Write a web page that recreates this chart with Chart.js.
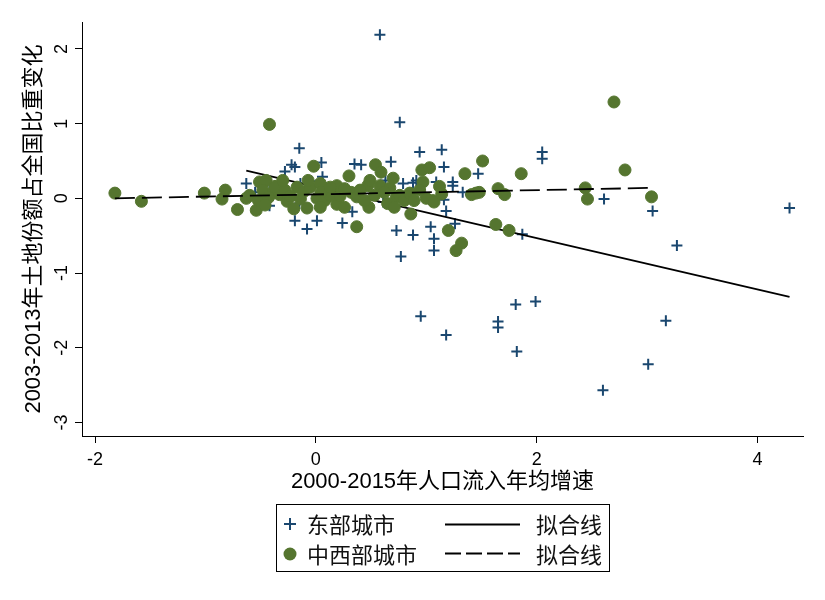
<!DOCTYPE html>
<html>
<head>
<meta charset="utf-8">
<script src="https://cdn.jsdelivr.net/npm/chart.js@4.4.1/dist/chart.umd.min.js"></script>
<style>
  body { margin: 0; background: #fff; }
  #wrap { position: relative; width: 825px; height: 600px; }
  #legend {
    position: absolute; left: 276px; top: 504px; width: 332px; height: 66px;
    border: 1px solid #000; font-family: 'Noto Sans CJK SC', sans-serif; font-size: 22px; color: #111;
  }
  #legend span, #legend svg { position: absolute; }
  #legend .lab { line-height: 30px; }
</style>
</head>
<body>
<div id="wrap">
  <canvas id="grafico" width="825" height="600"></canvas>
  <div id="legend">
    <svg style="left:7px;top:13px" width="12" height="12"><path d="M6 0V12M0 6H12" stroke="#1a476f" stroke-width="2"/></svg>
    <span class="lab" style="left:30px;top:3px">东部城市</span>
    <svg style="left:168px;top:18px" width="75" height="3"><line x1="0" y1="1.5" x2="75" y2="1.5" stroke="#000" stroke-width="2"/></svg>
    <span class="lab" style="left:259px;top:3px">拟合线</span>

    <svg style="left:6px;top:42px" width="14" height="14"><circle cx="7" cy="7" r="6.5" fill="#55752f"/></svg>
    <span class="lab" style="left:30px;top:33px">中西部城市</span>
    <svg style="left:168px;top:47px" width="75" height="3"><line x1="0" y1="1.5" x2="75" y2="1.5" stroke="#000" stroke-width="2" stroke-dasharray="16 5"/></svg>
    <span class="lab" style="left:259px;top:33px">拟合线</span>
  </div>
</div>
<script>

// 东部城市
var eastX = [0.58, 0.76, -0.15, -0.22, -0.19, 0.05, -0.28, 0.35, 0.41, 0.68, 0.94, 1.14, 1.16, 0.06, -0.63,
             -0.04, -0.42, 0.79, 0.88, 1.09, -0.42, -0.15, 0.33, -0.19, -0.08, 0.01, 0.24, 0.73, 0.88, 1.04,
             1.07, 1.07, 2.05, 2.05, 1.47, 1.24, 1.24, 1.33, 1.16, 1.18, 1.26, 0.77, 1.87, 2.61, 0.61,
             0.63, 4.29, 3.05, 3.27, 0.95, 1.18, 1.65, 1.65, 1.81, 1.99, 1.82, 2.60, 3.01, 3.17, -0.55,
             -0.14, 0.91, 1.40];
var eastY = [2.19, 1.02, 0.67, 0.45, 0.42, 0.48, 0.36, 0.46, 0.45, 0.49, 0.62, 0.65, 0.42, 0.29, 0.20,
             0.23, 0.20, 0.20, 0.21, 0.22, -0.10, -0.07, -0.18, -0.30, -0.41, -0.30, -0.33, -0.43, -0.49, -0.38,
             -0.54, -0.70, 0.62, 0.53, 0.33, 0.22, 0.17, 0.08, -0.02, -0.17, -0.34, -0.78, -0.48, -0.01, -0.05,
             0.24, -0.13, -0.17, -0.63, -1.58, -1.83, -1.65, -1.73, -1.42, -1.38, -2.05, -2.57, -2.22, -1.64, 0.08,
             0.20, 0.24, 0.05];

// 中西部城市
var westX = [-1.82, -1.58, -0.42, -1.01, -0.85, -0.82, -0.71, -0.63, -0.54, -0.51, -0.45, -0.48, -0.39, -0.33, -0.26,
             -0.20, -0.17, -0.11, -0.05, -0.08, -0.02, 0.04, 0.01, 0.08, 0.19, 0.19, 0.13, 0.30, 0.37, 0.32,
             0.37, 0.48, 0.47, 0.54, 0.59, 0.49, 0.58, 0.67, 0.73, 0.76, 0.80, 0.86, 0.96, 1.03, 0.97,
             1.06, 1.00, 1.07, 1.14, 1.35, 1.51, 1.45, 1.41, 1.48, 1.20, 1.86, 2.70, 2.80, 2.44, 2.46,
             3.04, 1.65, 1.71, 1.63, 1.75, 1.32, 1.27, -0.60, -0.52, -0.43, -0.37, -0.28, -0.23, -0.14, -0.07,
             0.05, 0.13, 0.22, 0.26, 0.40, 0.44, 0.53, 0.62, 0.65, 0.70, 0.85, 0.89, 0.94, 1.12, 0.71,
             0.26, 0.04, -0.46, -0.30];
var westY = [0.07, -0.04, 0.99, 0.07, -0.01, 0.11, -0.15, 0.00, -0.16, 0.22, 0.24, 0.11, 0.07, 0.05, -0.04,
             -0.14, 0.15, 0.09, 0.15, -0.13, 0.43, 0.20, 0.00, -0.03, -0.08, 0.17, 0.04, 0.30, -0.38, 0.08,
             0.02, -0.12, 0.17, 0.45, 0.35, 0.24, 0.17, 0.14, 0.02, 0.04, -0.03, -0.21, 0.38, 0.41, 0.22,
             -0.03, 0.00, -0.05, 0.06, 0.33, 0.50, 0.07, 0.05, 0.08, -0.43, 0.33, 1.29, 0.38, 0.14, -0.01,
             0.02, 0.13, 0.05, -0.35, -0.43, -0.60, -0.70, 0.04, -0.03, 0.01, 0.16, 0.11, 0.03, -0.01, 0.24,
             0.08, 0.15, 0.03, 0.13, 0.11, -0.03, 0.04, 0.08, -0.07, 0.27, 0.07, -0.03, 0.11, 0.16, -0.12,
             -0.12, -0.12, -0.09, 0.24];

// 拟合线 (两端点)
var eastFitX = [-0.63, 4.29];
var eastFitY = [0.37, -1.32];
var westFitX = [-1.82, 3.04];
var westFitY = [0.00, 0.14];

var xTicks = [-2, 0, 2, 4];
var yTicks = [-3, -2, -1, 0, 1, 2];

var xTitle = '2000-2015年人口流入年均增速';
var yTitle = '2003-2013年土地份额占全国比重变化';

function pares(xs, ys){
	return xs.map(function(x, i){ return {x: x, y: ys[i]}; });
}

var fonte = "'Liberation Sans', 'Noto Sans CJK SC', sans-serif";
Chart.defaults.font.family = fonte;
Chart.defaults.color = '#000';

// rótulos do eixo y girados (estilo Stata)
var rotulosY = {
	id: 'rotulosY',
	afterDraw: function(chart){
		var s = chart.scales.y, ctx = chart.ctx;
		ctx.save();
		ctx.font = '18px ' + fonte;
		ctx.fillStyle = '#000';
		ctx.textAlign = 'center';
		ctx.textBaseline = 'middle';
		s.ticks.forEach(function(t){
			ctx.save();
			ctx.translate(s.right - 20, s.getPixelForValue(t.value));
			ctx.rotate(-Math.PI / 2);
			ctx.fillText(String(t.value), 0, 0);
			ctx.restore();
		});
		ctx.restore();
	}
};

var data = {
	datasets: [
		{
			label: '拟合线 东部',
			data: pares(eastFitX, eastFitY),
			showLine: true, pointRadius: 0,
			borderColor: '#000', borderWidth: 1.8,
			order: 2
		},
		{
			label: '东部城市',
			data: pares(eastX, eastY),
			pointStyle: 'cross', pointRadius: 5.5,
			borderColor: '#1a476f', borderWidth: 2,
			order: 3
		},
		{
			label: '中西部城市',
			data: pares(westX, westY),
			pointStyle: 'circle', pointRadius: 6,
			backgroundColor: '#55752f', borderColor: '#55752f', borderWidth: 1,
			order: 1
		},
		{
			label: '拟合线 中西部',
			data: pares(westFitX, westFitY),
			showLine: true, pointRadius: 0,
			borderColor: '#000', borderWidth: 1.8, borderDash: [20, 7],
			order: 0
		}
	]
};

var options = {
	responsive: false,
	animation: false,
	events: [],
	layout: { padding: { top: 22, right: 22, left: 0, bottom: 100 } },
	plugins: { legend: { display: false }, tooltip: { enabled: false } },
	scales: {
		x: {
			type: 'linear', min: -2.118, max: 4.412,
			afterBuildTicks: function(s){ s.ticks = xTicks.map(function(v){ return {value: v}; }); },
			afterFit: function(s){ s.height = 64; },
			grid: { display: true, drawOnChartArea: false, drawTicks: true, tickLength: 7, color: '#000' },
			border: { display: true, color: '#000', width: 1 },
			ticks: { font: { size: 18 }, padding: 6, maxRotation: 0 },
			title: { display: true, text: xTitle, font: { size: 22 }, padding: { top: 0, bottom: 5 } }
		},
		y: {
			type: 'linear', min: -3.182, max: 2.361,
			afterBuildTicks: function(s){ s.ticks = yTicks.map(function(v){ return {value: v}; }); },
			afterFit: function(s){ s.width = 82; },
			grid: { display: true, drawOnChartArea: false, drawTicks: true, tickLength: 7, color: '#000' },
			border: { display: true, color: '#000', width: 1 },
			ticks: { display: false },
			title: { display: true, text: yTitle, font: { size: 22 }, padding: { top: 21, bottom: 0 } }
		}
	}
};

var ctx = document.getElementById('grafico').getContext('2d');
new Chart(ctx, {type: 'scatter', data: data, options: options, plugins: [rotulosY]});

</script>
</body>
</html>
